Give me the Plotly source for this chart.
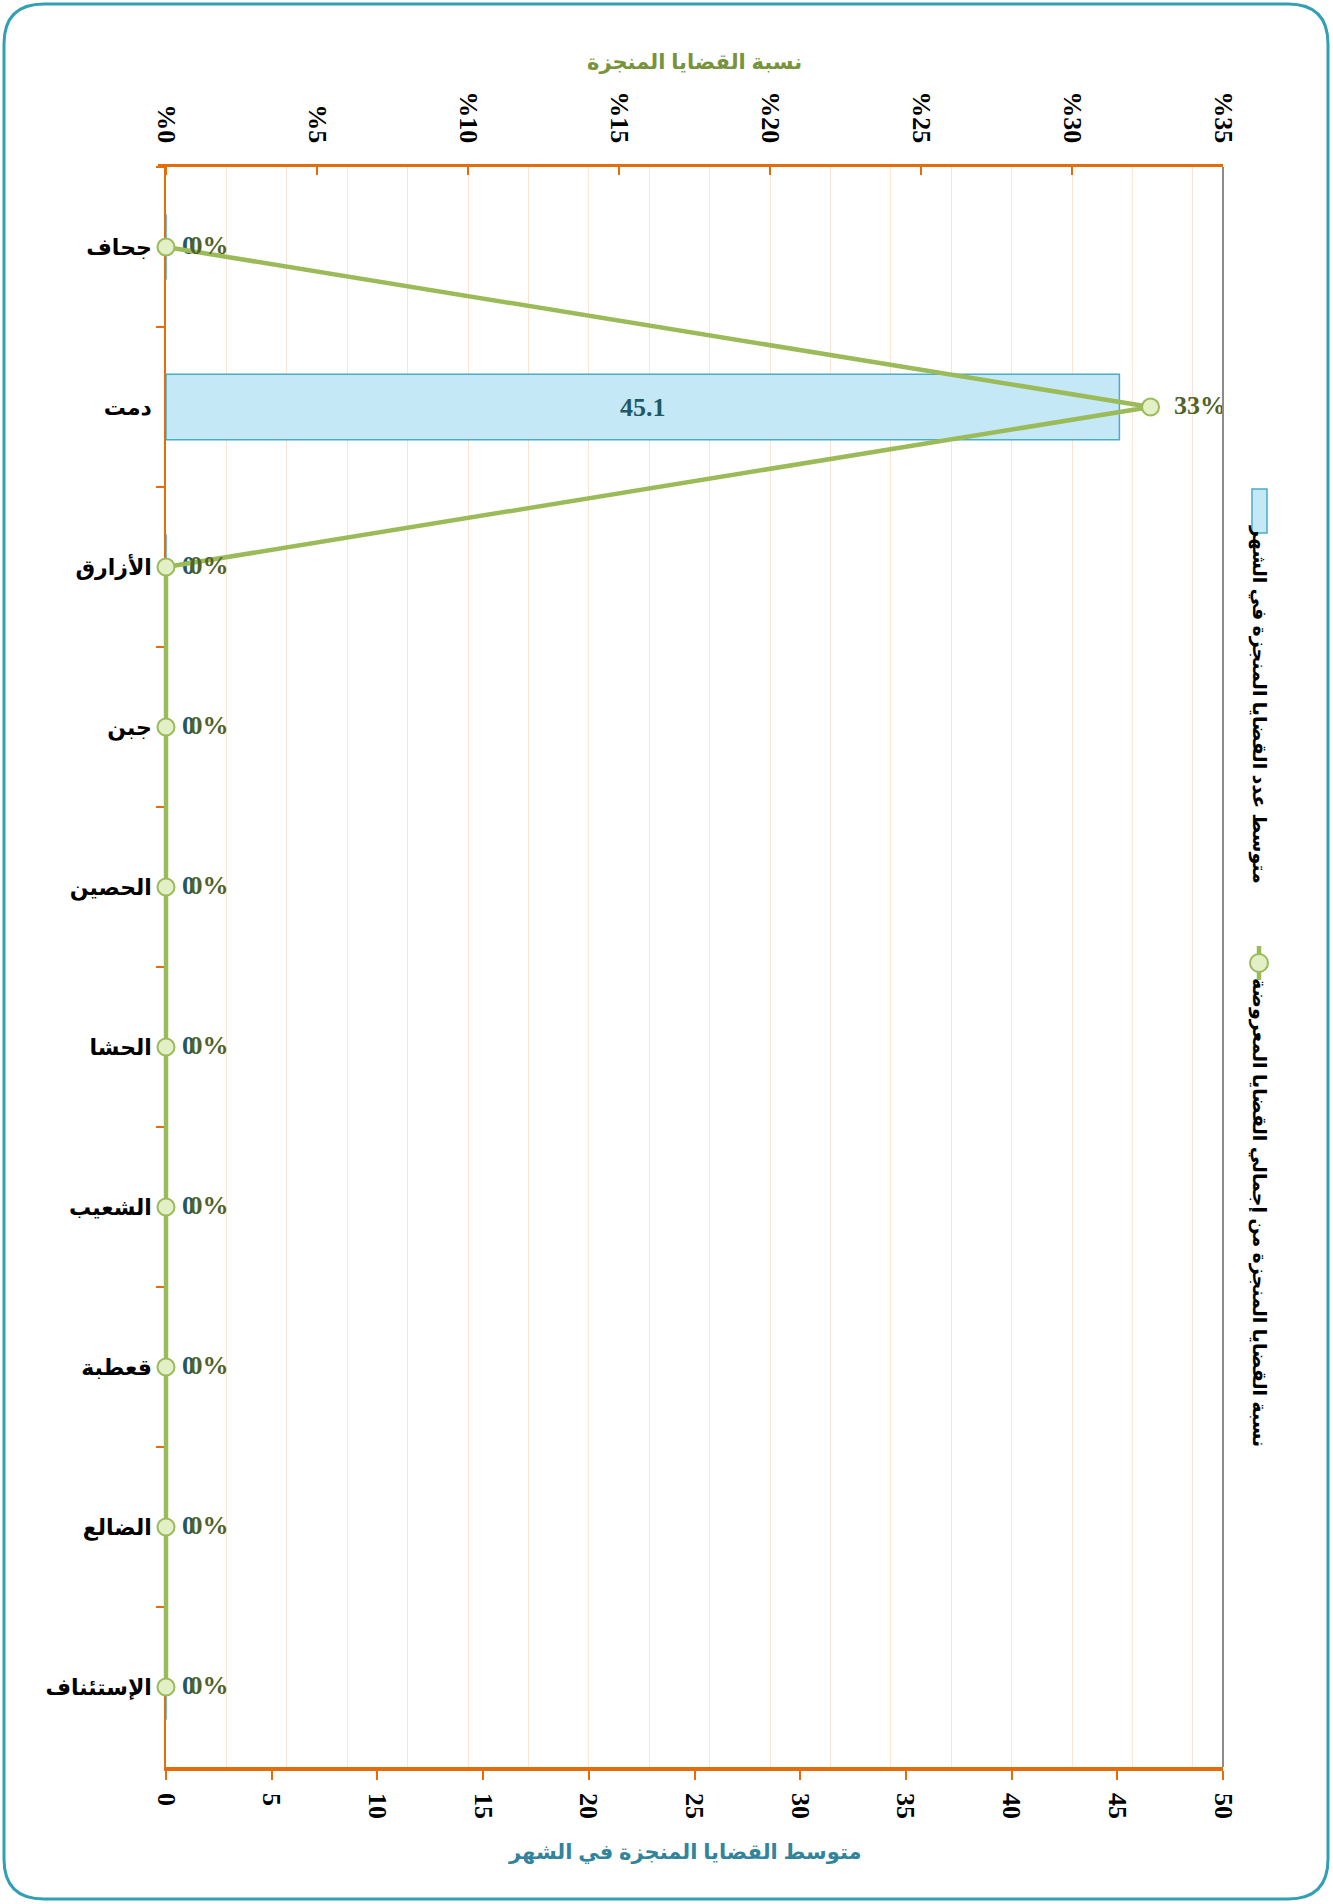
import plotly.graph_objects as go

# ---------------- data ----------------
categories = ["جحاف", "دمت", "الأزارق", "جبن", "الحصين", "الحشا", "الشعيب", "قعطبة", "الضالع", "الإستئناف"]
avg_cases = [0, 45.1, 0, 0, 0, 0, 0, 0, 0, 0]
pct_done = [0, 0.326, 0, 0, 0, 0, 0, 0, 0, 0]
bar_labels = ["0", "45.1", "0", "0", "0", "0", "0", "0", "0", "0"]
pct_tick_vals = [0, 0.05, 0.10, 0.15, 0.20, 0.25, 0.30, 0.35]
pct_tick_text = ["%0", "%5", "%10", "%15", "%20", "%25", "%30", "%35"]
bar_series_name = "متوسط عدد القضايا المنجزة في الشهر"
line_series_name = "نسبة القضايا المنجزة من إجمالي القضايا المعروضة"
top_axis_title = "نسبة القضايا المنجزة"
bottom_axis_title = "متوسط القضايا المنجزة في الشهر"

# ---------------- layout geometry ----------------
W, H = 1333, 1904
EXT = 8                      # top axis line sticks out left of the value axis by this many px
PLOT_L, PLOT_R, PLOT_T, PLOT_B = 166, 1223, 167, 1767
ML, MR, MT, MB = PLOT_L - EXT, W - PLOT_R, PLOT_T, H - PLOT_B
PW = W - ML - MR
PH = H - MT - MB
d0 = EXT / PW
PCT_MAX = 0.35
pct_lo = -PCT_MAX * EXT / (PLOT_R - PLOT_L)


def px_x(px):
    return (px - ML) / PW


def px_y(py):
    return (H - MB - py) / PH


ORANGE = "#e46c0a"
GREEN = "#9bbb59"
TEAL_BORDER = "#31a0b4"
SERIF = "Liberation Serif, Times New Roman, serif"
ARAB = "Arial, Liberation Sans, DejaVu Sans, sans-serif"
CLEAR = "rgba(0,0,0,0)"

fig = go.Figure()

# gridline helper axis (empty trace)
fig.add_trace(go.Scatter(x=[], y=[], xaxis="x3", yaxis="y", showlegend=False, hoverinfo="skip"))

fig.add_trace(go.Bar(
    y=categories, x=avg_cases, orientation="h", name=bar_series_name,
    width=0.41,
    marker=dict(color="#c4e8f6", line=dict(color="#4bacc6", width=1.5)),
    text=[t if v > 0 else "" for t, v in zip(bar_labels, avg_cases)],
    textposition="inside",
    insidetextanchor="middle",
    textfont=dict(family=SERIF, size=26, color="#215868", weight="bold"),
    showlegend=False,
))

# labels of zero-valued bars (drawn at the bar base; invisible markers only set the text offset)
zero_idx = [i for i, v in enumerate(avg_cases) if v == 0]
fig.add_trace(go.Scatter(
    y=[categories[i] for i in zero_idx], x=[avg_cases[i] for i in zero_idx],
    text=[bar_labels[i] for i in zero_idx],
    mode="markers+text", textposition="middle right",
    marker=dict(size=24, color=CLEAR, line=dict(width=0)),
    textfont=dict(family=SERIF, size=26, color="#215868", weight="bold"),
    cliponaxis=False, showlegend=False, hoverinfo="skip",
))

fig.add_trace(go.Scatter(
    y=categories, x=pct_done, xaxis="x2", yaxis="y", name=line_series_name,
    mode="lines+markers",
    line=dict(color=GREEN, width=4.5),
    marker=dict(size=17, color="#e3efc6", line=dict(color=GREEN, width=2)),
    cliponaxis=False,
    showlegend=False,
))

fig.add_trace(go.Scatter(
    y=categories, x=pct_done, xaxis="x2", yaxis="y",
    mode="markers+text",
    texttemplate="%{x:.0%}",
    textposition="middle right",
    marker=dict(size=36, color=CLEAR, line=dict(width=0)),
    textfont=dict(family=SERIF, size=26, color="#4f6228", weight="bold"),
    cliponaxis=False, showlegend=False, hoverinfo="skip",
))

fig.update_layout(
    width=W, height=H,
    margin=dict(l=ML, r=MR, t=MT, b=MB),
    paper_bgcolor="white", plot_bgcolor=CLEAR,
    showlegend=False,
    yaxis=dict(
        type="category", range=[len(categories) - 0.5, -0.5],
        anchor="x",
        showline=True, linecolor=ORANGE, linewidth=1.5,
        ticks="outside", tickson="boundaries", ticklen=8, tickcolor=ORANGE, tickwidth=1.5,
        ticklabelstandoff=8,
        tickfont=dict(family=ARAB, size=22, color="black", weight="bold"),
        showgrid=False, zeroline=False,
    ),
    xaxis=dict(
        domain=[d0, 1], anchor="y",
        range=[0, 50], dtick=5, tickangle=90,
        showline=True, linecolor=ORANGE, linewidth=3.5,
        ticks="outside", ticklen=9, tickwidth=2, tickcolor=ORANGE,
        ticklabelstandoff=8,
        tickfont=dict(family=SERIF, size=26, color="black", weight="bold"),
        showgrid=False, zeroline=False,
    ),
    xaxis2=dict(
        domain=[0, 1], anchor="y", side="top",
        range=[pct_lo, PCT_MAX], tickvals=pct_tick_vals, ticktext=pct_tick_text, tickangle=90,
        showline=True, linecolor=ORANGE, linewidth=2.5,
        ticks="inside", ticklen=8, tickwidth=1.5, tickcolor=ORANGE,
        ticklabelstandoff=12,
        tickfont=dict(family=SERIF, size=26, color="black", weight="bold"),
        showgrid=False, zeroline=False,
    ),
    xaxis3=dict(
        overlaying="x", anchor="y", range=[0, PCT_MAX], dtick=0.02, tick0=0,
        showgrid=True, gridcolor="#fce4d4", gridwidth=1,
        showticklabels=False, ticks="", showline=False, zeroline=False,
    ),
)

# right frame line of plot area
fig.add_shape(type="line", xref="paper", yref="paper", x0=1, x1=1, y0=0, y1=1,
              line=dict(color="#8c8c8c", width=2))

# outer rounded border
x0, x1, y0, y1, r = 4, 1328, 4, 1899, 40
path = (
    f"M {px_x(x0 + r)},{px_y(y0)} "
    f"L {px_x(x1 - r)},{px_y(y0)} "
    f"Q {px_x(x1)},{px_y(y0)} {px_x(x1)},{px_y(y0 + r)} "
    f"L {px_x(x1)},{px_y(y1 - r)} "
    f"Q {px_x(x1)},{px_y(y1)} {px_x(x1 - r)},{px_y(y1)} "
    f"L {px_x(x0 + r)},{px_y(y1)} "
    f"Q {px_x(x0)},{px_y(y1)} {px_x(x0)},{px_y(y1 - r)} "
    f"L {px_x(x0)},{px_y(y0 + r)} "
    f"Q {px_x(x0)},{px_y(y0)} {px_x(x0 + r)},{px_y(y0)} Z"
)
fig.add_shape(type="path", xref="paper", yref="paper", path=path,
              line=dict(color=TEAL_BORDER, width=3), fillcolor=CLEAR, layer="below")

# axis titles
fig.add_annotation(text=top_axis_title, xref="paper", yref="paper", x=px_x(694), y=px_y(62),
                   xanchor="center", yanchor="middle", showarrow=False,
                   font=dict(family=ARAB, size=21, color="#77933c", weight="bold"))
fig.add_annotation(text=bottom_axis_title, xref="paper", yref="paper", x=px_x(684), y=px_y(1852),
                   xanchor="center", yanchor="middle", showarrow=False,
                   font=dict(family=ARAB, size=21, color="#31849b", weight="bold"))

# legend (vertical, drawn manually)
lx = px_x(1259)
fig.add_shape(type="rect", xref="paper", yref="paper",
              x0=px_x(1252), x1=px_x(1267), y0=px_y(533), y1=px_y(489),
              fillcolor="#c4e8f6", line=dict(color="#4bacc6", width=1.5))
fig.add_annotation(text=bar_series_name, xref="paper", yref="paper", x=lx, y=px_y(704),
                   xanchor="center", yanchor="middle", textangle=90, showarrow=False,
                   font=dict(family=ARAB, size=19, color="black", weight="bold"))
fig.add_shape(type="line", xref="paper", yref="paper", x0=lx, x1=lx, y0=px_y(980), y1=px_y(946),
              line=dict(color=GREEN, width=4.5))
fig.add_shape(type="circle", xref="paper", yref="paper", xsizemode="pixel", ysizemode="pixel",
              xanchor=lx, yanchor=px_y(963), x0=-9, x1=9, y0=-9, y1=9,
              fillcolor="#e3efc6", line=dict(color=GREEN, width=2))
fig.add_annotation(text=line_series_name, xref="paper", yref="paper", x=lx, y=px_y(1212),
                   xanchor="center", yanchor="middle", textangle=90, showarrow=False,
                   font=dict(family=ARAB, size=19, color="black", weight="bold"))

fig.write_html("out.html", config={"displayModeBar": False},
               post_script="document.body.style.margin='0';")
